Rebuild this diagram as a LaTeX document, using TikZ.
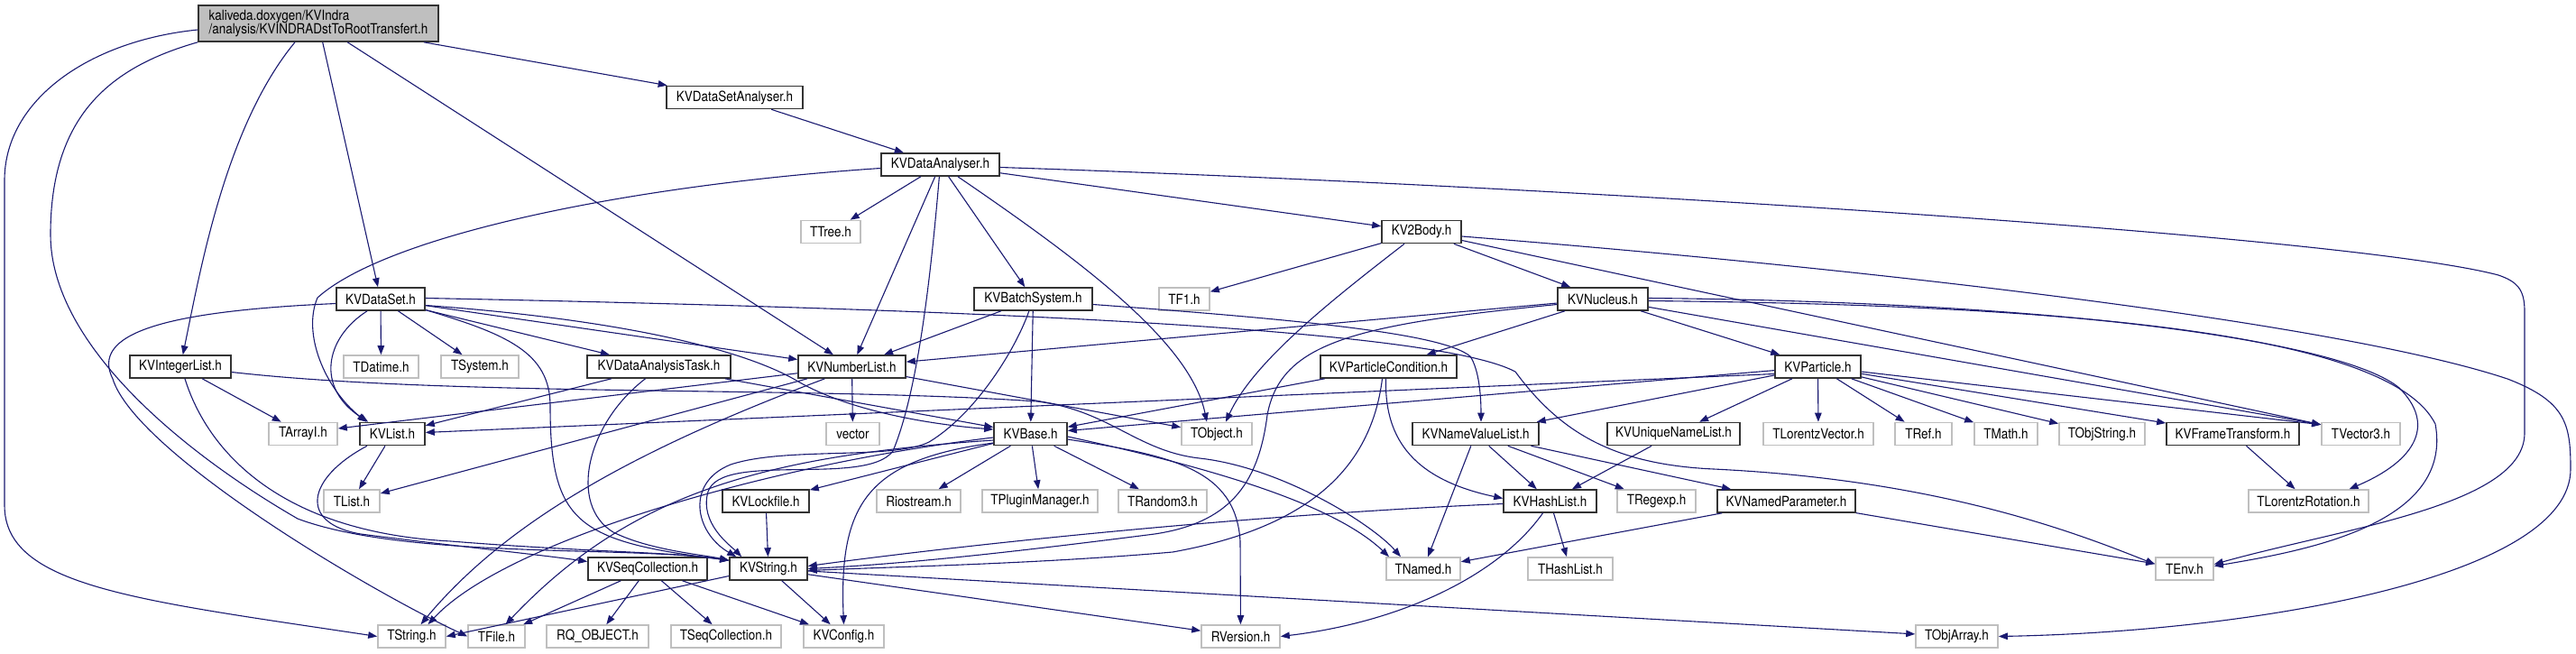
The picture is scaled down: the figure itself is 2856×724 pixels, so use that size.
\documentclass[tikz,border=0pt]{standalone}
\usepackage{fontspec}
\setmainfont{TeX Gyre Heros}[FakeStretch=0.87]
\usetikzlibrary{arrows.meta}
\definecolor{edgecol}{HTML}{191970}
\definecolor{grayborder}{HTML}{BFBFBF}
\definecolor{mainfill}{HTML}{BFBFBF}
\definecolor{kvborder}{HTML}{333333}
\tikzset{
  box/.style={rectangle, fill=white, minimum height=25pt, inner sep=0pt, line width=1.6pt,
    font=\fontsize{15.5}{15}\selectfont},
  kv/.style={box, draw=kvborder},
  ext/.style={box, draw=grayborder},
  dep/.style={draw=edgecol, line width=1.1pt, -{Triangle[length=10pt,width=7.5pt]}}
}
\begin{document}
\begin{tikzpicture}[x=1pt,y=-1pt]
\useasboundingbox (0,0) rectangle (2856,724);
% nodes
\node[kv,fill=mainfill,minimum width=266pt,minimum height=40pt,align=left] (main) at (353,26) {kaliveda.doxygen/KVIndra\\/analysis/KVINDRADstToRootTransfert.h};
\node[kv,minimum width=151pt] (KVDataSetAnalyser) at (814.5,108) {KVDataSetAnalyser.h};
\node[kv,minimum width=131pt] (KVDataAnalyser) at (1042.5,182.5) {KVDataAnalyser.h};
\node[ext,minimum width=66pt] (TTree) at (921,257) {TTree.h};
\node[kv,minimum width=88pt] (KV2Body) at (1576,257) {KV2Body.h};
\node[kv,minimum width=98pt] (KVDataSet) at (422,331.5) {KVDataSet.h};
\node[kv,minimum width=131pt] (KVBatchSystem) at (1145.5,331.5) {KVBatchSystem.h};
\node[ext,minimum width=56pt] (TF1) at (1313,331.5) {TF1.h};
\node[kv,minimum width=100pt] (KVNucleus) at (1777,331.5) {KVNucleus.h};
% row 406.5
\node[kv,minimum width=112pt] (KVIntegerList) at (200,406.5) {KVIntegerList.h};
\node[ext,minimum width=83pt] (TDatime) at (422.5,406.5) {TDatime.h};
\node[ext,minimum width=86pt] (TSystem) at (532,406.5) {TSystem.h};
\node[kv,minimum width=159pt] (KVDataAnalysisTask) at (730.5,406.5) {KVDataAnalysisTask.h};
\node[kv,minimum width=119pt] (KVNumberList) at (944.5,406.5) {KVNumberList.h};
\node[kv,minimum width=151pt] (KVParticleCondition) at (1539.5,406.5) {KVParticleCondition.h};
\node[kv,minimum width=95pt] (KVParticle) at (2015.5,406.5) {KVParticle.h};
% row 481
\node[ext,minimum width=76pt] (TArrayI) at (336,481) {TArrayI.h};
\node[kv,minimum width=72pt] (KVList) at (435,481) {KVList.h};
\node[ext,minimum width=59pt] (vector) at (945.5,481) {vector};
\node[kv,minimum width=81pt] (KVBase) at (1142.5,481) {KVBase.h};
\node[ext,minimum width=78pt] (TObject) at (1349,481) {TObject.h};
\node[kv,minimum width=140pt] (KVNameValueList) at (1636,481) {KVNameValueList.h};
\node[kv,minimum width=147pt] (KVUniqueNameList) at (1855.5,481) {KVUniqueNameList.h};
\node[ext,minimum width=122pt] (TLorentzVector) at (2016,481) {TLorentzVector.h};
\node[ext,minimum width=63pt] (TRef) at (2132.5,481) {TRef.h};
\node[ext,minimum width=70pt] (TMath) at (2224,481) {TMath.h};
\node[ext,minimum width=95pt] (TObjString) at (2330.5,481) {TObjString.h};
\node[kv,minimum width=147pt] (KVFrameTransform) at (2475.5,481) {KVFrameTransform.h};
\node[ext,minimum width=87pt] (TVector3) at (2617.5,481) {TVector3.h};
% row 555.5
\node[ext,minimum width=62pt] (TList) at (390,555.5) {TList.h};
\node[kv,minimum width=96pt] (KVLockfile) at (849,555.5) {KVLockfile.h};
\node[ext,minimum width=93pt] (Riostream) at (1018.5,555.5) {Riostream.h};
\node[ext,minimum width=128pt] (TPluginManager) at (1153,555.5) {TPluginManager.h};
\node[ext,minimum width=98pt] (TRandom3) at (1289,555.5) {TRandom3.h};
\node[kv,minimum width=103pt] (KVHashList) at (1718.5,555.5) {KVHashList.h};
\node[ext,minimum width=87pt] (TRegexp) at (1836.5,555.5) {TRegexp.h};
\node[kv,minimum width=153pt] (KVNamedParameter) at (1980.5,555.5) {KVNamedParameter.h};
\node[ext,minimum width=133pt] (TLorentzRotation) at (2559.5,555.5) {TLorentzRotation.h};
% row 630.5
\node[kv,minimum width=132pt] (KVSeqCollection) at (718,630.5) {KVSeqCollection.h};
\node[kv,minimum width=86pt] (KVString) at (852,630.5) {KVString.h};
\node[ext,minimum width=82pt] (TNamed) at (1578,630.5) {TNamed.h};
\node[ext,minimum width=94pt] (THashList) at (1741,630.5) {THashList.h};
\node[ext,minimum width=64pt] (TEnv) at (2422,630.5) {TEnv.h};
% row 705.5
\node[ext,minimum width=75pt] (TString) at (456.5,705.5) {TString.h};
\node[ext,minimum width=63pt] (TFile) at (550.5,705.5) {TFile.h};
\node[ext,minimum width=113pt] (RQOBJECT) at (662.5,705.5) {RQ\_OBJECT.h};
\node[ext,minimum width=122pt] (TSeqCollection) at (805,705.5) {TSeqCollection.h};
\node[ext,minimum width=89pt] (KVConfig) at (935.5,705.5) {KVConfig.h};
\node[ext,minimum width=87pt] (RVersion) at (1375.5,705.5) {RVersion.h};
\node[ext,minimum width=91pt] (TObjArray) at (2169.5,705.5) {TObjArray.h};
% ---- edges ----
% main
\draw[dep] (main) -- (KVDataSetAnalyser);
\draw[dep] (main) -- (KVDataSet);
\draw[dep] (main) -- (KVNumberList);
\draw[dep] ([xshift=-26pt]main.south) .. controls (250,140) and (222,300) .. (KVIntegerList);
\draw[dep] ([yshift=-7pt]main.west) .. controls (100,45) and (5,110) .. (5,200) -- (5,560) .. controls (5,650) and (150,665) .. (TString.west);
\draw[dep] (main.south west) .. controls (120,75) and (56,130) .. (56,260) .. controls (56,380) and (200,500) .. (330,575) .. controls (450,620) and (700,605) .. ([yshift=-4pt]KVString.north west);
% KVDataSetAnalyser
\draw[dep] (KVDataSetAnalyser) -- (KVDataAnalyser);
% KVDataAnalyser
\draw[dep] ([yshift=-4pt]KVDataAnalyser.west) .. controls (700,205) and (430,260) .. (352,330) .. controls (335,370) and (360,430) .. ([xshift=8pt]KVList.north west);
\draw[dep] (KVDataAnalyser) -- (TTree);
\draw[dep] (KVDataAnalyser) -- (KVNumberList);
\draw[dep] (KVDataAnalyser) .. controls (1030,330) and (1015,440) .. (990,500) .. controls (960,540) and (800,500) .. (785,545) .. controls (775,580) and (810,605) .. ([xshift=14pt]KVString.north west);
\draw[dep] (KVDataAnalyser) -- (KVBatchSystem);
\draw[dep] (KVDataAnalyser) .. controls (1200,290) and (1320,380) .. ([xshift=-11pt]TObject.north);
\draw[dep] (KVDataAnalyser) -- (KV2Body);
\draw[dep] ([yshift=-3pt]KVDataAnalyser.east) .. controls (1700,205) and (2600,260) .. (2770,305) .. controls (2790,312) and (2799,320) .. (2799,345) -- (2799,480) .. controls (2799,560) and (2600,585) .. ([yshift=5pt]TEnv.east);
% KVBatchSystem
\draw[dep] (KVBatchSystem) -- (KVNumberList);
\draw[dep] (KVBatchSystem) .. controls (1125,390) and (1080,460) .. (1030,490) .. controls (990,510) and (870,495) .. (810,515) .. controls (760,535) and (770,590) .. ([xshift=8pt]KVString.north west);
\draw[dep] (KVBatchSystem) -- (KVBase);
\draw[dep] ([yshift=-6pt]KVBatchSystem.east) .. controls (1450,355) and (1600,370) .. (1630,395) .. controls (1640,410) and (1642,440) .. ([xshift=6pt]KVNameValueList.north);
% KV2Body
\draw[dep] (KV2Body) -- (TF1);
\draw[dep] ([xshift=-19pt]KV2Body.south) .. controls (1480,330) and (1390,400) .. ([xshift=10pt]TObject.north);
\draw[dep] (KV2Body) -- (KVNucleus);
\draw[dep] (KV2Body) -- ([yshift=-3pt]TVector3.north west);
\draw[dep] ([yshift=-5pt]KV2Body.east) .. controls (2100,300) and (2600,360) .. (2780,420) .. controls (2845,445) and (2850,470) .. (2850,520) .. controls (2850,640) and (2500,700) .. (TObjArray.east);
% KVNucleus
\draw[dep] (KVNucleus) -- (KVNumberList);
\draw[dep] ([yshift=-6pt]KVNucleus.west) .. controls (1500,360) and (1420,380) .. (1405,460) .. controls (1395,540) and (1360,580) .. (1280,592) .. controls (1100,615) and (1000,625) .. (KVString.east);
\draw[dep] (KVNucleus) -- (KVParticleCondition);
\draw[dep] (KVNucleus) -- (KVParticle);
\draw[dep] (KVNucleus) -- ([yshift=-3pt]TVector3.north west);
\draw[dep] ([yshift=1pt]KVNucleus.east) .. controls (2300,335) and (2600,380) .. (2660,430) .. controls (2700,470) and (2680,510) .. ([xshift=45pt]TLorentzRotation.north);
\draw[dep] ([yshift=-2pt]KVNucleus.east) .. controls (2300,338) and (2650,370) .. (2700,470) .. controls (2720,580) and (2560,610) .. ([yshift=3pt]TEnv.east);
% KVDataSet
\draw[dep] ([yshift=1pt]KVDataSet.east) .. controls (1200,345) and (1600,370) .. (1680,412) .. controls (1730,480) and (1790,515) .. (1900,520) .. controls (2150,532) and (2300,590) .. ([yshift=5pt]TEnv.west);
\draw[dep] (KVDataSet) -- ([yshift=8pt]KVNumberList.west);
\draw[dep] ([yshift=-7pt]KVDataSet.east) .. controls (700,355) and (830,390) .. (885,423) .. controls (950,460) and (1050,472) .. ([yshift=5pt]KVBase.west);
\draw[dep] (KVDataSet) -- (KVDataAnalysisTask);
\draw[dep] ([yshift=-12pt]KVDataSet.east) .. controls (560,370) and (610,390) .. (610,450) .. controls (610,580) and (640,600) .. ([yshift=-4pt]KVString.north west);
\draw[dep] ([xshift=-15pt]KVDataSet.south) .. controls (360,375) and (350,430) .. ([xshift=10pt]KVList.north west);
\draw[dep] (KVDataSet) -- (TDatime);
\draw[dep] (KVDataSet) -- (TSystem);
\draw[dep] ([yshift=-5pt]KVDataSet.west) .. controls (180,345) and (100,370) .. (125,420) .. controls (150,500) and (400,650) .. (TFile.west);
% KVIntegerList
\draw[dep] (KVIntegerList) -- (TArrayI);
\draw[dep] ([yshift=-6pt]KVIntegerList.east) .. controls (500,440) and (900,428) .. (1150,445) .. controls (1230,455) and (1260,500) .. (1330,508) .. controls (1420,518) and (1520,580) .. ([xshift=-25pt]TNamed.north);
\draw[dep] ([xshift=5pt]KVIntegerList.south) .. controls (230,500) and (310,590) .. (500,600) .. controls (650,612) and (750,612) .. ([yshift=-4pt]KVString.north west);
% KVDataAnalysisTask
\draw[dep] (KVDataAnalysisTask) -- (KVList);
\draw[dep] (KVDataAnalysisTask) -- (KVBase);
\draw[dep] ([xshift=-15pt]KVDataAnalysisTask.south) .. controls (650,470) and (630,560) .. (680,590) .. controls (720,610) and (780,615) .. ([yshift=-4pt]KVString.north west);
% KVNumberList
\draw[dep] (KVNumberList) -- (vector);
\draw[dep] (KVNumberList) -- (TObject);
\draw[dep] (KVNumberList) -- ([yshift=6pt]TArrayI.east);
\draw[dep] (KVNumberList) -- (TList);
\draw[dep] ([xshift=-30pt]KVNumberList.south) .. controls (700,500) and (560,580) .. ([xshift=10pt]TString.north);
% KVBase
\draw[dep] ([yshift=-3pt]KVBase.east) .. controls (1350,520) and (1480,560) .. ([xshift=-38pt]TNamed.north);
\draw[dep] ([yshift=-6pt]KVBase.east) .. controls (1300,505) and (1370,520) .. (1375,600) -- (RVersion);
\draw[dep] ([yshift=-10pt]KVBase.west) .. controls (960,510) and (930,560) .. (KVConfig.north);
\draw[dep] (KVBase) -- (KVLockfile);
\draw[dep] (KVBase) -- (Riostream);
\draw[dep] (KVBase) -- (TPluginManager);
\draw[dep] (KVBase) -- (TRandom3);
\draw[dep] ([yshift=-4pt]KVBase.west) .. controls (850,515) and (560,600) .. ([xshift=18pt]TString.north);
\draw[dep] ([yshift=-7pt]KVBase.west) .. controls (850,505) and (700,545) .. ([xshift=10pt]TFile.north);
% KVLockfile
\draw[dep] (KVLockfile) -- (KVString);
% KVParticleCondition
\draw[dep] (KVParticleCondition) -- (KVBase);
\draw[dep] ([xshift=-3pt]KVParticleCondition.south) .. controls (1535,480) and (1560,530) .. ([yshift=3pt]KVHashList.west);
\draw[dep] ([xshift=-7pt]KVParticleCondition.south) .. controls (1520,520) and (1450,585) .. (1300,612) .. controls (1150,625) and (1000,628) .. ([yshift=-2pt]KVString.east);
% KVParticle
\draw[dep] ([yshift=-8pt]KVParticle.west) -- (KVList);
\draw[dep] (KVParticle) -- (KVBase);
\draw[dep] (KVParticle) -- (KVNameValueList);
\draw[dep] (KVParticle) -- (KVUniqueNameList);
\draw[dep] (KVParticle) -- (TLorentzVector);
\draw[dep] (KVParticle) -- (TRef);
\draw[dep] (KVParticle) -- (TMath);
\draw[dep] (KVParticle) -- (TObjString);
\draw[dep] (KVParticle) -- (KVFrameTransform);
\draw[dep] (KVParticle) -- ([yshift=-3pt]TVector3.north west);
% KVFrameTransform
\draw[dep] (KVFrameTransform) -- (TLorentzRotation);
% KVNameValueList
\draw[dep] (KVNameValueList) -- (KVHashList);
\draw[dep] (KVNameValueList) -- (TRegexp);
\draw[dep] (KVNameValueList) -- (KVNamedParameter);
\draw[dep] (KVNameValueList) -- (TNamed);
% KVUniqueNameList
\draw[dep] (KVUniqueNameList) -- (KVHashList);
% KVHashList
\draw[dep] (KVHashList) -- (THashList);
\draw[dep] ([yshift=-3pt]KVHashList.west) .. controls (1400,570) and (1100,600) .. ([yshift=3pt]KVString.east);
\draw[dep] ([xshift=-8pt]KVHashList.south) .. controls (1660,640) and (1550,690) .. (RVersion.east);
% KVNamedParameter
\draw[dep] (KVNamedParameter) -- (TNamed);
\draw[dep] (KVNamedParameter) -- (TEnv);
% KVSeqCollection
\draw[dep] (KVSeqCollection) -- (TSeqCollection);
\draw[dep] (KVSeqCollection) -- (RQOBJECT);
\draw[dep] (KVSeqCollection) -- (TFile);
\draw[dep] (KVSeqCollection) -- (KVConfig);
% KVString
\draw[dep] ([yshift=-8pt]KVString.west) -- (TString.east);
\draw[dep] (KVString) -- (KVConfig);
\draw[dep] (KVString) -- (RVersion);
\draw[dep] (KVString) -- (TObjArray);
% KVList
\draw[dep] (KVList) -- (TList);
\draw[dep] ([xshift=-28pt]KVList.south) .. controls (340,530) and (330,580) .. (400,592) .. controls (500,605) and (600,615) .. ([yshift=8pt]KVSeqCollection.west);
\end{tikzpicture}
\end{document}
